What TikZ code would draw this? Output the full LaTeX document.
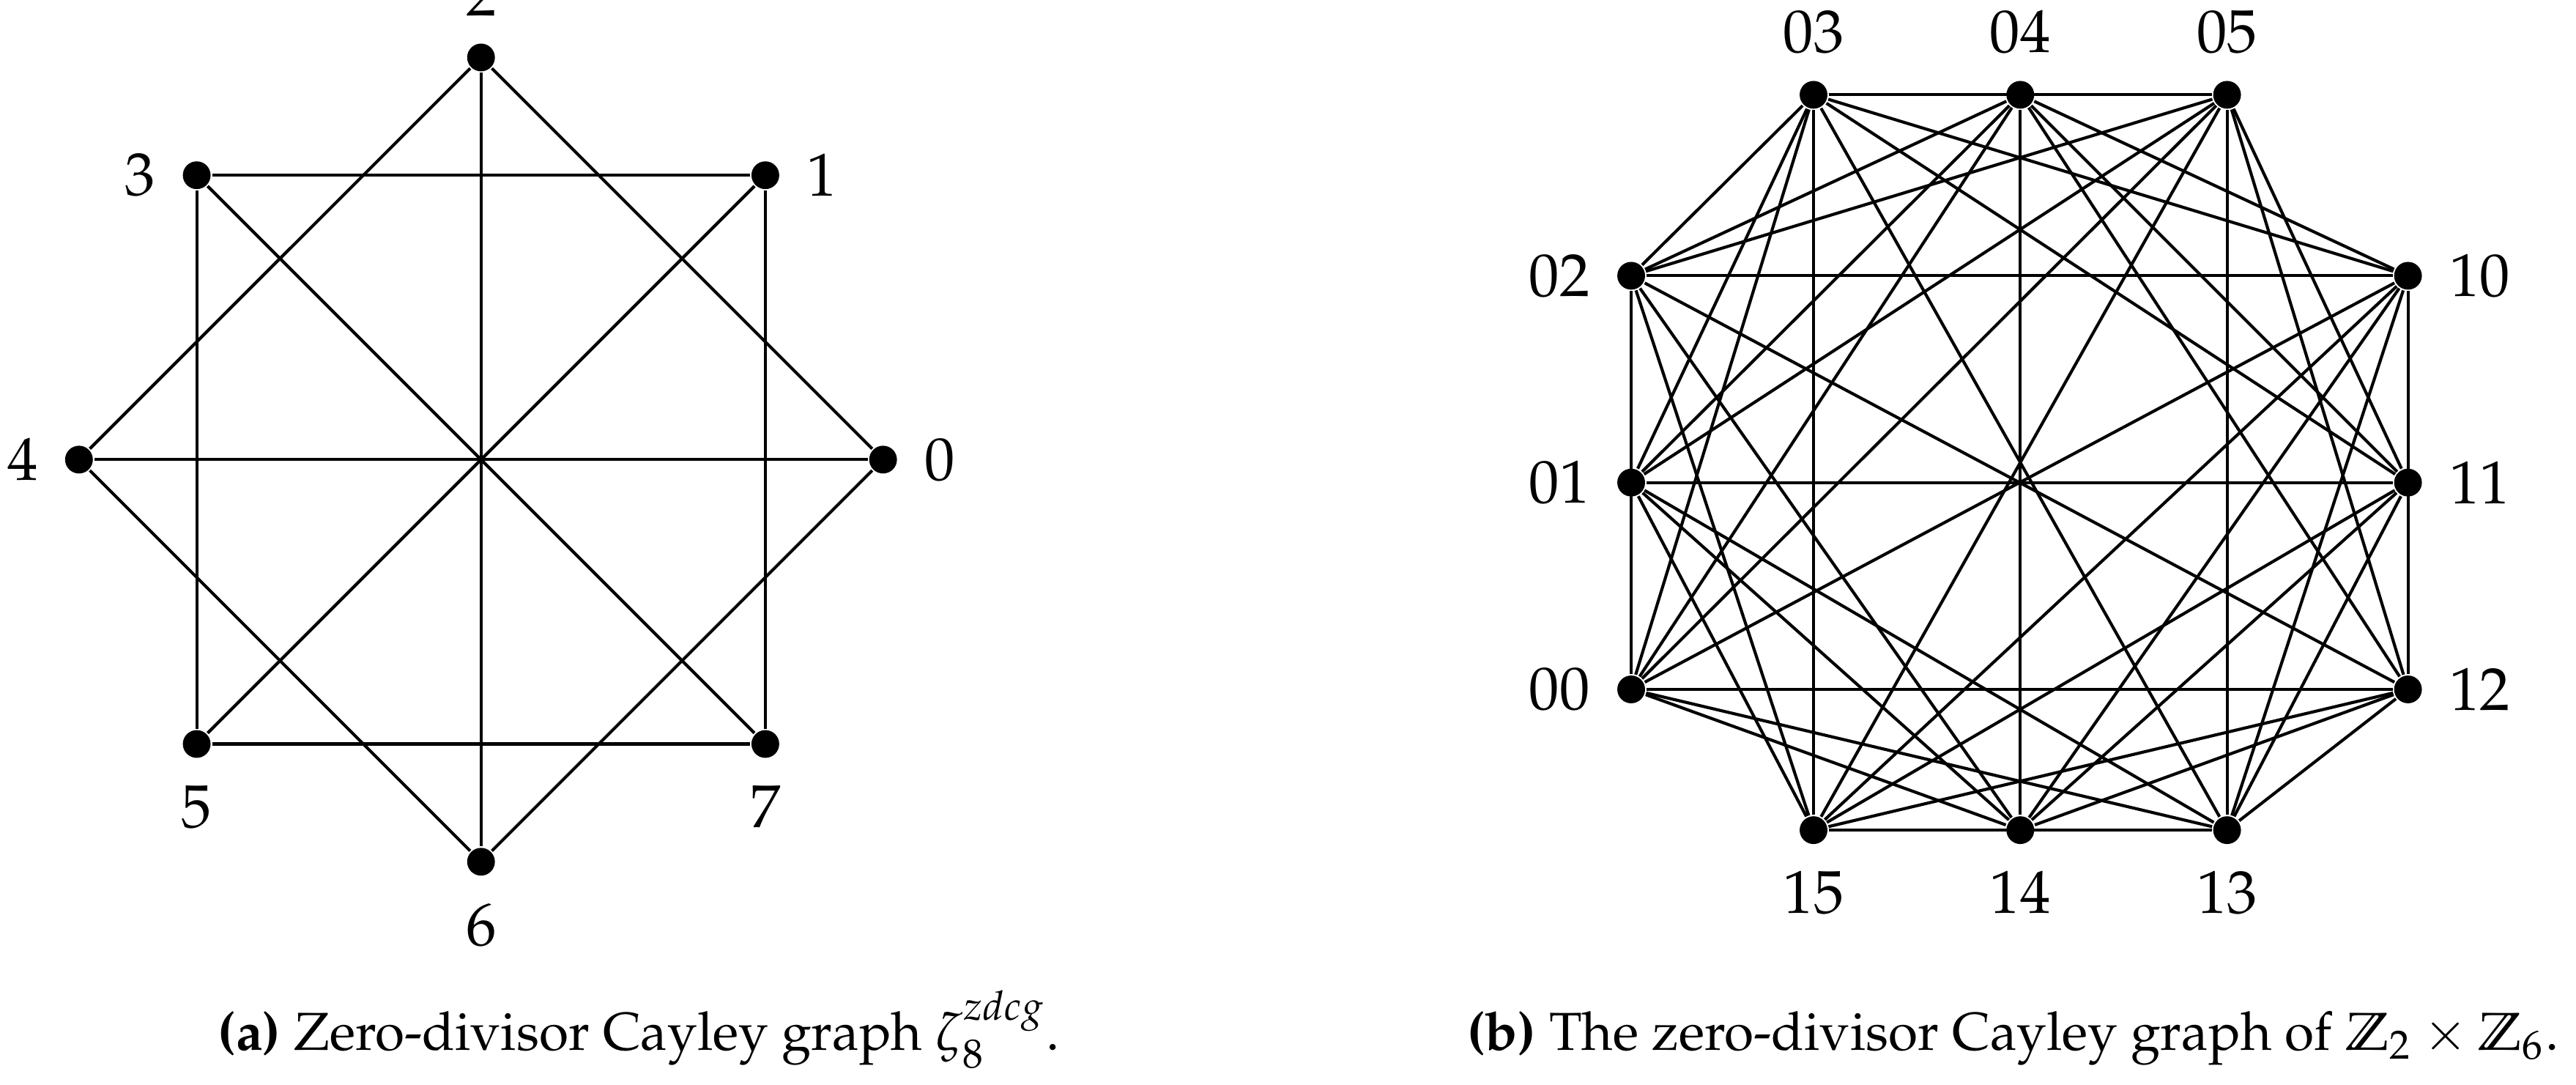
\documentclass[tikz,border=0pt]{standalone}
\usepackage[T1]{fontenc}
\usepackage{mathpazo}
\usetikzlibrary{positioning}

\begin{document}
\begin{tikzpicture}[line width=0.6pt,
    dot/.style={circle,fill=black,inner sep=0pt,minimum size=5.5pt},
    lbl/.style={font=\large,inner sep=2pt},
    captext/.style={anchor=base,font=\fontsize{10.6}{13}\selectfont}]
    \useasboundingbox (0,0) rectangle (17.94,7.55);

    % graph (a)
    \node[dot] (a0) at (6.15,4.35) {};
    \node[dot] (a1) at (5.33,6.33) {};
    \node[dot] (a2) at (3.35,7.15) {};
    \node[dot] (a3) at (1.37,6.33) {};
    \node[dot] (a4) at (0.55,4.35) {};
    \node[dot] (a5) at (1.37,2.37) {};
    \node[dot] (a6) at (3.35,1.55) {};
    \node[dot] (a7) at (5.33,2.37) {};

    \node[lbl,right=1mm of a0] (la0) {0};
    \node[lbl,right=1mm of a1] (la1) {1};
    \node[lbl,above=1mm of a2] (la2) {2};
    \node[lbl,left=1mm of a3] (la3) {3};
    \node[lbl,left=1mm of a4] (la4) {4};
    \node[lbl,below=1mm of a5] (la5) {5};
    \node[lbl,below=1mm of a6] (la6) {6};
    \node[lbl,below=1mm of a7] (la7) {7};

    \foreach \from/\to in {a0/a2,a0/a4,a0/a6,a2/a4,a2/a6,a4/a6,a1/a3,a1/a5,a1/a7,a3/a5,a3/a7,a5/a7}
    \draw (\from)--(\to);

    \node[captext] (capa) at (4.45,0.24) {\textbf{(a)} Zero-divisor Cayley graph $\zeta_8^{zdcg}$.};

    % graph (b)
    \node[dot] (b03) at (12.63,6.89) {};
    \node[dot] (b04) at (14.07,6.89) {};
    \node[dot] (b05) at (15.51,6.89) {};
    \node[dot] (b02) at (11.36,5.63) {};
    \node[dot] (b10) at (16.77,5.63) {};
    \node[dot] (b01) at (11.36,4.19) {};
    \node[dot] (b11) at (16.77,4.19) {};
    \node[dot] (b00) at (11.36,2.75) {};
    \node[dot] (b12) at (16.77,2.75) {};
    \node[dot] (b15) at (12.63,1.77) {};
    \node[dot] (b14) at (14.07,1.77) {};
    \node[dot] (b13) at (15.51,1.77) {};

    \node[lbl,above=1mm of b03] (lb03) {03};
    \node[lbl,above=1mm of b04] (lb04) {04};
    \node[lbl,above=1mm of b05] (lb05) {05};
    \node[lbl,left=1mm of b02] (lb02) {02};
    \node[lbl,left=1mm of b01] (lb01) {01};
    \node[lbl,left=1mm of b00] (lb00) {00};
    \node[lbl,right=1mm of b10] (lb10) {10};
    \node[lbl,right=1mm of b11] (lb11) {11};
    \node[lbl,right=1mm of b12] (lb12) {12};
    \node[lbl,below=1mm of b15] (lb15) {15};
    \node[lbl,below=1mm of b14] (lb14) {14};
    \node[lbl,below=1mm of b13] (lb13) {13};

    % first coordinate 0
    \foreach \from/\to in {b00/b01,b00/b02,b00/b03,b00/b04,b00/b05,b01/b02,b01/b03,b01/b04,
        b01/b05,b02/b03,b02/b04,b02/b05,b03/b04,b03/b05,b04/b05}
    \draw (\from)--(\to);
    % first coordinate 1
    \foreach \from/\to in {b10/b11,b10/b12,b10/b13,b10/b14,b10/b15,b11/b12,b11/b13,b11/b14,
        b11/b15,b12/b13,b12/b14,b12/b15,b13/b14,b13/b15,b14/b15}
    \draw (\from)--(\to);
    % between the two
    \foreach \from/\to in {b00/b10,b00/b12,b00/b13,b00/b14,b01/b11,b01/b13,b01/b14,b01/b15,
        b02/b12,b02/b14,b02/b15,b02/b10,b03/b13,b03/b15,b03/b10,b03/b11,
        b04/b14,b04/b10,b04/b11,b04/b12,b05/b15,b05/b11,b05/b12,b05/b13}
    \draw (\from)--(\to);

    \node[captext] (capb) at (14.02,0.24) {\textbf{(b)} The zero-divisor Cayley graph of $\mathbb{Z}_2\times\mathbb{Z}_6$.};
\end{tikzpicture}
\end{document}
